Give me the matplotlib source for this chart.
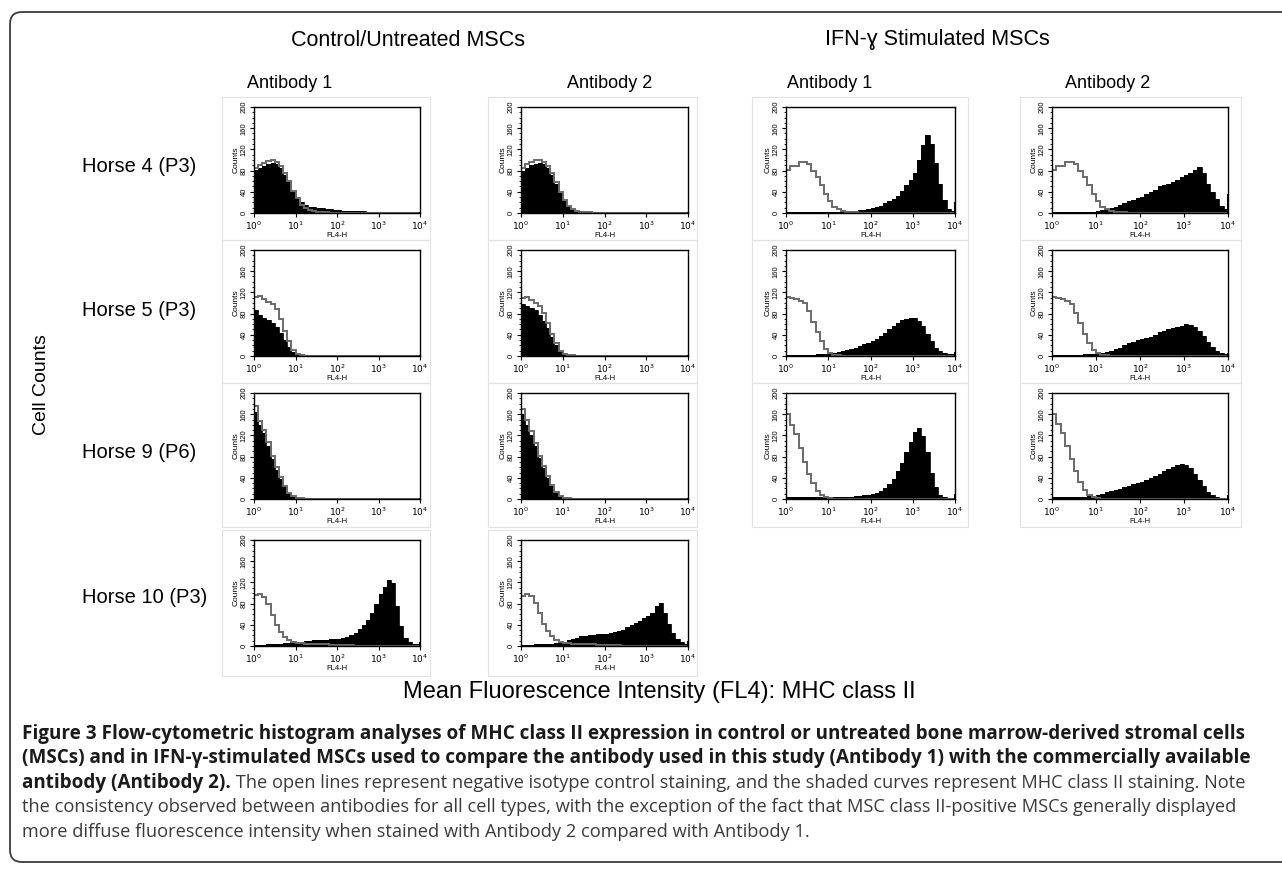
import numpy as np
import matplotlib
matplotlib.use("Agg")
import matplotlib.pyplot as plt
from matplotlib.patches import FancyBboxPatch, Rectangle
from matplotlib.ticker import FixedLocator, MultipleLocator, LogLocator, NullFormatter

plt.rcParams['font.family'] = ['Liberation Sans', 'DejaVu Sans']

# ---------------- data (counts per 0.1-decade bin, 10^0 .. 10^4) ----------------
column_titles = ["Antibody 1", "Antibody 2", "Antibody 1", "Antibody 2"]
group_titles = ["Control/Untreated MSCs", "IFN-\u0263 Stimulated MSCs"]
row_labels = ["Horse 4 (P3)", "Horse 5 (P3)", "Horse 9 (P6)", "Horse 10 (P3)"]
decade_labels = ["$10^0$", "$10^1$", "$10^2$", "$10^3$", "$10^4$"]
count_ticks = [0, 40, 80, 120, 160, 200]

# Horse 4
h4_ab1_ctrl_stain = [82, 85, 88, 92, 95, 92, 85, 72, 58, 42, 28, 20, 15, 12, 11, 10, 9, 8, 7, 6,
                     5, 4, 4, 3, 3, 3, 3, 2, 2, 2, 2, 2, 2, 2, 1, 1, 1, 1, 1, 2]
h4_ab1_ctrl_iso = [85, 90, 95, 98, 100, 96, 88, 75, 60, 42, 28, 16, 9, 5, 3, 2, 1, 1, 0, 0,
                   0, 0, 0, 0, 0, 0, 0, 0, 0, 0, 0, 0, 0, 0, 0, 0, 0, 0, 0, 0]
h4_ab2_ctrl_stain = [80, 85, 90, 92, 94, 92, 85, 72, 55, 38, 22, 12, 6, 4, 3, 3, 2, 2, 2, 2,
                     2, 2, 2, 2, 2, 2, 2, 2, 2, 2, 2, 2, 2, 2, 1, 1, 1, 1, 1, 1]
h4_ab2_ctrl_iso = [85, 92, 97, 100, 100, 97, 88, 75, 58, 40, 25, 14, 7, 4, 2, 1, 1, 0, 0, 0,
                   0, 0, 0, 0, 0, 0, 0, 0, 0, 0, 0, 0, 0, 0, 0, 0, 0, 0, 0, 0]
h4_ab1_ifn_stain = [2, 2, 2, 2, 2, 2, 2, 2, 2, 2, 2, 2, 2, 2, 3, 3, 4, 5, 6, 8,
                    9, 11, 14, 18, 22, 27, 33, 42, 52, 63, 75, 100, 128, 148, 130, 95, 55, 25, 8, 3]
h4_ab1_ifn_iso = [82, 89, 88, 96, 97, 92, 80, 68, 52, 36, 22, 12, 7, 4, 2, 1, 1, 0, 0, 0,
                  0, 0, 0, 0, 0, 0, 0, 0, 0, 0, 0, 0, 0, 0, 0, 0, 0, 0, 0, 0]
h4_ab2_ifn_stain = [1, 1, 1, 1, 1, 1, 1, 2, 2, 2, 3, 5, 7, 9, 12, 15, 18, 22, 25, 28,
                    31, 35, 39, 44, 50, 53, 54, 58, 63, 68, 72, 76, 82, 87, 75, 55, 40, 26, 14, 7]
h4_ab2_ifn_iso = [82, 89, 88, 96, 97, 92, 80, 68, 52, 36, 22, 12, 7, 4, 2, 1, 1, 0, 0, 0,
                  0, 0, 0, 0, 0, 0, 0, 0, 0, 0, 0, 0, 0, 0, 0, 0, 0, 0, 0, 0]
# Horse 5
h5_ab1_ctrl_stain = [86, 78, 72, 68, 62, 54, 44, 30, 17, 7, 3, 2, 2, 2, 1, 1, 1, 1, 1, 1,
                     1, 1, 1, 1, 1, 1, 1, 1, 1, 1, 1, 1, 1, 1, 1, 1, 1, 1, 1, 1]
h5_ab1_ctrl_iso = [112, 113, 108, 102, 98, 88, 70, 48, 28, 12, 4, 1, 0, 0, 0, 0, 0, 0, 0, 0,
                   0, 0, 0, 0, 0, 0, 0, 0, 0, 0, 0, 0, 0, 0, 0, 0, 0, 0, 0, 0]
h5_ab2_ctrl_stain = [98, 95, 90, 86, 78, 66, 52, 36, 20, 8, 3, 2, 1, 1, 1, 1, 1, 1, 1, 1,
                     1, 1, 1, 1, 1, 1, 1, 1, 1, 1, 1, 1, 1, 1, 1, 1, 1, 1, 1, 1]
h5_ab2_ctrl_iso = [110, 112, 106, 100, 95, 82, 62, 42, 24, 10, 4, 2, 1, 0, 0, 0, 0, 0, 0, 0,
                   0, 0, 0, 0, 0, 0, 0, 0, 0, 0, 0, 0, 0, 0, 0, 0, 0, 0, 0, 0]
h5_ab1_ifn_stain = [2, 2, 2, 2, 2, 2, 2, 3, 3, 4, 5, 6, 8, 10, 12, 14, 16, 19, 22, 25,
                    29, 33, 38, 44, 50, 56, 62, 67, 70, 72, 72, 66, 56, 42, 28, 16, 9, 5, 3, 3]
h5_ab1_ifn_iso = [112, 110, 107, 104, 100, 85, 65, 45, 28, 13, 5, 2, 1, 0, 0, 0, 0, 0, 0, 0,
                  0, 0, 0, 0, 0, 0, 0, 0, 0, 0, 0, 0, 0, 0, 0, 0, 0, 0, 0, 0]
h5_ab2_ifn_stain = [2, 2, 2, 2, 2, 2, 2, 3, 3, 4, 5, 6, 8, 10, 13, 16, 20, 24, 27, 30,
                    32, 34, 36, 40, 45, 48, 50, 52, 55, 57, 60, 58, 55, 48, 38, 27, 17, 9, 5, 3]
h5_ab2_ifn_iso = [112, 110, 108, 104, 98, 82, 62, 42, 25, 12, 5, 2, 1, 0, 0, 0, 0, 0, 0, 0,
                  0, 0, 0, 0, 0, 0, 0, 0, 0, 0, 0, 0, 0, 0, 0, 0, 0, 0, 0, 0]
# Horse 9
h9_ab1_ctrl_stain = [165, 140, 125, 100, 75, 55, 38, 22, 10, 4, 2, 1, 1, 1, 1, 1, 1, 1, 1, 1,
                     1, 1, 1, 1, 1, 1, 1, 1, 1, 1, 1, 1, 1, 1, 1, 1, 1, 1, 1, 1]
h9_ab1_ctrl_iso = [175, 148, 130, 108, 82, 60, 42, 25, 12, 5, 2, 1, 0, 0, 0, 0, 0, 0, 0, 0,
                   0, 0, 0, 0, 0, 0, 0, 0, 0, 0, 0, 0, 0, 0, 0, 0, 0, 0, 0, 0]
h9_ab2_ctrl_stain = [160, 140, 120, 100, 78, 58, 40, 24, 12, 5, 2, 1, 1, 1, 1, 2, 1, 1, 1, 1,
                     1, 1, 2, 1, 1, 1, 1, 1, 1, 1, 1, 1, 1, 1, 1, 1, 1, 1, 1, 1]
h9_ab2_ctrl_iso = [170, 150, 128, 105, 82, 62, 44, 26, 13, 6, 2, 1, 0, 0, 0, 0, 0, 0, 0, 0,
                   0, 0, 0, 0, 0, 0, 0, 0, 0, 0, 0, 0, 0, 0, 0, 0, 0, 0, 0, 0]
h9_ab1_ifn_stain = [3, 3, 3, 3, 3, 3, 3, 3, 3, 3, 3, 3, 3, 3, 3, 4, 5, 6, 7, 8,
                    9, 11, 15, 20, 28, 38, 52, 68, 88, 108, 126, 134, 118, 88, 50, 22, 8, 3, 2, 2]
h9_ab1_ifn_iso = [160, 140, 122, 96, 70, 48, 30, 16, 7, 3, 1, 0, 0, 0, 0, 0, 0, 0, 0, 0,
                  0, 0, 0, 0, 0, 0, 0, 0, 0, 0, 0, 0, 0, 0, 0, 0, 0, 0, 0, 0]
h9_ab2_ifn_stain = [3, 3, 3, 3, 3, 3, 3, 4, 5, 6, 8, 10, 13, 15, 17, 19, 22, 25, 28, 30,
                    33, 36, 40, 44, 48, 52, 56, 60, 64, 66, 65, 58, 48, 36, 24, 14, 7, 3, 2, 1]
h9_ab2_ifn_iso = [160, 142, 125, 100, 75, 52, 32, 17, 8, 3, 1, 0, 0, 0, 0, 0, 0, 0, 0, 0,
                  0, 0, 0, 0, 0, 0, 0, 0, 0, 0, 0, 0, 0, 0, 0, 0, 0, 0, 0, 0]
# Horse 10 (control/untreated only)
h10_ab1_ctrl_stain = [2, 2, 2, 3, 3, 4, 4, 5, 5, 6, 7, 8, 9, 10, 11, 11, 12, 12, 13, 13,
                      14, 15, 17, 20, 25, 32, 40, 50, 62, 80, 98, 112, 125, 118, 75, 38, 16, 7, 4, 3]
h10_ab1_ctrl_iso = [96, 98, 93, 80, 58, 40, 27, 17, 11, 8, 6, 5, 4, 4, 3, 3, 3, 3, 2, 2,
                    2, 1, 1, 1, 0, 0, 0, 0, 0, 0, 0, 0, 0, 0, 0, 0, 0, 0, 0, 0]
h10_ab2_ctrl_stain = [2, 2, 2, 3, 3, 3, 4, 4, 5, 6, 8, 11, 14, 16, 18, 19, 20, 21, 22, 22,
                      23, 24, 26, 28, 31, 35, 40, 44, 48, 52, 56, 62, 75, 82, 62, 42, 25, 14, 7, 4]
h10_ab2_ctrl_iso = [95, 98, 94, 82, 62, 42, 28, 18, 12, 8, 6, 5, 4, 4, 3, 3, 3, 3, 2, 2,
                    2, 1, 1, 1, 0, 0, 0, 0, 0, 0, 0, 0, 0, 0, 0, 0, 0, 0, 0, 0]

# first / last channel pile-up counts (isotype first channel, stained last channel)
first_channel = [[145, 145, 145, 145], [0, 0, 0, 0], [200, 200, 170, 165], [150, 150]]
last_channel = [[2, 1, 20, 35], [1, 1, 8, 6], [1, 1, 10, 8], [8, 10]]

panels = [
    [(h4_ab1_ctrl_stain, h4_ab1_ctrl_iso), (h4_ab2_ctrl_stain, h4_ab2_ctrl_iso),
     (h4_ab1_ifn_stain, h4_ab1_ifn_iso), (h4_ab2_ifn_stain, h4_ab2_ifn_iso)],
    [(h5_ab1_ctrl_stain, h5_ab1_ctrl_iso), (h5_ab2_ctrl_stain, h5_ab2_ctrl_iso),
     (h5_ab1_ifn_stain, h5_ab1_ifn_iso), (h5_ab2_ifn_stain, h5_ab2_ifn_iso)],
    [(h9_ab1_ctrl_stain, h9_ab1_ctrl_iso), (h9_ab2_ctrl_stain, h9_ab2_ctrl_iso),
     (h9_ab1_ifn_stain, h9_ab1_ifn_iso), (h9_ab2_ifn_stain, h9_ab2_ifn_iso)],
    [(h10_ab1_ctrl_stain, h10_ab1_ctrl_iso), (h10_ab2_ctrl_stain, h10_ab2_ctrl_iso)],
]

caption_bold = [
    "Figure 3 Flow-cytometric histogram analyses of MHC class II expression in control or untreated bone marrow-derived stromal cells",
    "(MSCs) and in IFN-\u03b3-stimulated MSCs used to compare the antibody used in this study (Antibody 1) with the commercially available",
    "antibody (Antibody 2).",
]
caption_regular = [
    " The open lines represent negative isotype control staining, and the shaded curves represent MHC class II staining. Note",
    "the consistency observed between antibodies for all cell types, with the exception of the fact that MSC class II-positive MSCs generally displayed",
    "more diffuse fluorescence intensity when stained with Antibody 2 compared with Antibody 1.",
]

# ---------------- layout (pixels) ----------------
W, H = 1282, 872
fig = plt.figure(figsize=(W / 100, H / 100), dpi=100)
bg = fig.add_axes([0, 0, 1, 1], zorder=0)
bg.set_xlim(0, W)
bg.set_ylim(H, 0)
bg.axis('off')

# outer rounded frame
bg.add_patch(FancyBboxPatch((10, 12), 1300, 850, boxstyle="round,pad=0,rounding_size=12",
                            fill=False, ec='#3c3c3c', lw=1.3))

col_left = [254, 521, 786, 1052]
col_width = [166, 167, 169, 176]
row_top = [107, 250, 393, 540]
ax_h = 106
box_x = [(222, 430), (488, 697), (752, 968), (1020, 1241)]
box_y = [(97, 240), (240, 383), (383, 527), (530, 676)]

edges = 10 ** (np.arange(41) / 10.0)

for r, row in enumerate(panels):
    for c, (stain, iso) in enumerate(row):
        bx0, bx1 = box_x[c]
        by0, by1 = box_y[r]
        bg.add_patch(Rectangle((bx0, by0), bx1 - bx0, by1 - by0, fill=False, ec='#e2e2e2', lw=0.8))
        ax = fig.add_axes([col_left[c] / W, 1 - (row_top[r] + ax_h) / H, col_width[c] / W, ax_h / H], zorder=2)
        ax.stairs(stain, edges, fill=True, color='black', lw=0)
        ax.stairs(stain, edges, color='black', lw=0.6)
        ax.stairs(iso, edges, color='#6a6a6a', lw=1.4)
        ax.vlines(edges[0] * 1.01, 0, first_channel[r][c], color='#6a6a6a', lw=1.4)
        ax.vlines(edges[-1] * 0.985, 0, last_channel[r][c], color='black', lw=1.5)
        ax.set_xscale('log')
        ax.set_xlim(1, 1e4)
        ax.set_ylim(0, 200)
        ax.xaxis.set_major_locator(FixedLocator([1, 10, 100, 1000, 10000]))
        ax.set_xticklabels(decade_labels, fontsize=6.5)
        ax.xaxis.set_minor_locator(LogLocator(base=10, subs=np.arange(2, 10)))
        ax.xaxis.set_minor_formatter(NullFormatter())
        ax.yaxis.set_major_locator(FixedLocator(count_ticks))
        ax.set_yticklabels([str(v) for v in count_ticks], fontsize=5.5, rotation=90, va='center')
        ax.yaxis.set_minor_locator(MultipleLocator(10))
        ax.tick_params(which='major', direction='out', length=3, width=0.8, pad=1.5)
        ax.tick_params(which='minor', direction='out', length=1.6, width=0.6)
        for s in ax.spines.values():
            s.set_linewidth(1.0)
            s.set_color('black')
        ax.set_ylabel("Counts", fontsize=6, labelpad=1)
        ax.set_xlabel("FL4-H", fontsize=5.5, labelpad=0.5)

# headers
bg.text(408, 40, group_titles[0], fontsize=15.5, ha='center', va='center')
bg.text(937, 40, group_titles[1], fontsize=15.5, ha='center', va='center')
for x, t in zip([290, 610, 830, 1108], column_titles):
    bg.text(x, 83, t, fontsize=13, ha='center', va='center')
for y, t in zip([167, 310, 452, 597], row_labels):
    bg.text(82, y, t, fontsize=14.5, ha='left', va='center')
bg.text(42, 385, "Cell Counts", fontsize=14, rotation=90, ha='center', va='center')
bg.text(659, 692, "Mean Fluorescence Intensity (FL4): MHC class II", fontsize=17, ha='center', va='center')

# caption
cap_font = ['Open Sans', 'DejaVu Sans']
baselines = [739, 763, 788, 812, 837]
bold_size = 13.6
reg_size = 13.15
fig.canvas.draw()
renderer = fig.canvas.get_renderer()
for i, y in enumerate(baselines):
    x = 22
    if i < len(caption_bold):
        tb = bg.text(x, y, caption_bold[i], fontsize=bold_size, fontweight='bold', family=cap_font,
                     color='#1a1a1a', ha='left', va='baseline')
        bb = tb.get_window_extent(renderer)
        x = bb.x1
    j = i - 2
    if j >= 0:
        bg.text(x, y, caption_regular[j], fontsize=reg_size, family=cap_font, color='#3a3a3a',
                ha='left', va='baseline')

fig.savefig("out.png", dpi=100)
